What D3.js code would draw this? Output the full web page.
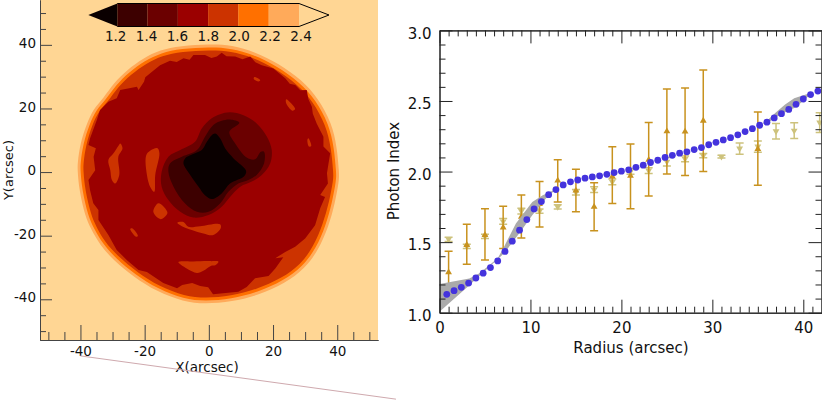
<!DOCTYPE html>
<html>
<head>
<meta charset="utf-8">
<script src="https://cdn.jsdelivr.net/npm/d3@7"></script>
<style>
  body { margin: 0; background: #fff; }
  svg { display: block; }
  text { font-family: "DejaVu Sans", sans-serif; fill: #111; }
</style>
</head>
<body>
<svg id="chart" width="822" height="401"></svg>
<script>
// colour bar
const barLevels = [1.2, 1.4, 1.6, 1.8, 2.0, 2.2, 2.4];
const barColors = ['#0a0000', '#3d0000', '#6b0000', '#9b0000', '#cc3300', '#ff7000', '#ffaa5a', '#ffd694'];

// map contours, [x, y] in arcsec
const ring22 = [[.4,40.25],[7.2,39.9],[14.4,37.8],[21.7,34.2],[29,28.9],[34.1,23.2],[38.3,15.3],[39.9,8],[40.6,-.3],[40.6,-2.5],[39.3,-9.8],[37.3,-17.2],[34.1,-24.5],[30,-30.3],[23.8,-35],[15.5,-38.7],[7.2,-40.8],[-1.2,-41.5],[-7.9,-40.8],[-16.2,-37.6],[-23.5,-32.9],[-29.7,-27.7],[-33.9,-23],[-36.8,-17.7],[-38.5,-14.1],[-40.4,-5.7],[-40.9,.6],[-40.9,2.7],[-40.1,9],[-38,15.3],[-35.9,20],[-32.8,23.2],[-29.7,27.9],[-25.5,32.1],[-20.4,35.8],[-15.2,38.4],[-8.9,39.7]];
const ring20 = [[.4,39.3],[7,38.9],[14,36.9],[21.1,33.4],[28.3,28.2],[33.3,22.7],[37.4,15],[39,7.8],[39.7,-.3],[39.7,-2.5],[38.4,-9.6],[36.4,-16.9],[33.4,-24],[29.3,-29.6],[23.2,-34.2],[15.2,-37.8],[7,-39.9],[-1.2,-40.6],[-7.7,-39.9],[-15.8,-36.8],[-23,-32.2],[-29,-27.1],[-33.2,-22.4],[-36,-17.3],[-37.6,-13.8],[-39.5,-5.6],[-40,.6],[-40,2.6],[-39.2,8.8],[-37.2,15],[-35.1,19.6],[-32.1,22.7],[-29,27.3],[-24.9,31.4],[-19.9,35],[-14.9,37.5],[-8.7,38.8]];
const ring18 = [[.4,38.4],[6.8,38],[13.7,36.1],[20.5,32.7],[27.6,27.6],[32.5,22.2],[36.5,14.6],[38.1,7.6],[38.8,-.3],[38.8,-2.4],[37.5,-9.4],[35.5,-16.5],[32.6,-23.4],[28.7,-29],[22.7,-33.4],[14.8,-36.9],[6.9,-39],[-1.1,-39.7],[-7.5,-39],[-15.4,-36],[-22.4,-31.5],[-28.3,-26.5],[-32.5,-21.9],[-35.2,-16.9],[-36.7,-13.5],[-38.6,-5.5],[-39.1,.6],[-39.1,2.6],[-38.3,8.6],[-36.4,14.7],[-34.3,19.2],[-31.4,22.2],[-28.4,26.7],[-24.3,30.7],[-19.5,34.2],[-14.6,36.6],[-8.5,37.9]];
const ring16 = [[-1.2,36.8],[.8,35.9],[2.5,36.3],[4,37.5],[5.5,36.4],[8.2,36.3],[10.5,35.5],[12.9,36.3],[14.5,34.5],[16.5,33.6],[20.1,32.6],[23.8,29.5],[25.2,27.8],[26.9,27.4],[28.5,25.7],[30.5,25.8],[31,23],[32.1,20.5],[32.4,18.3],[33.6,15.3],[35.7,11.1],[35.7,8],[37.8,5.9],[36.8,-.4],[37.1,-3.6],[34.7,-7.2],[36.2,-7.8],[34.7,-11.4],[33.1,-16.7],[30,-20.9],[26.9,-23.5],[23.8,-25.1],[20.7,-27.1],[23.2,-26.8],[20.7,-30.3],[18.6,-32.7],[14.4,-33.4],[11.8,-36.1],[9.2,-37.6],[1.3,-38.4],[-.2,-36.2],[-2.7,-35.8],[-5.2,-34.9],[-8.3,-35.5],[-9.9,-36.5],[-14.2,-34.9],[-19.3,-31.4],[-21.9,-30.8],[-25.5,-27.7],[-28.7,-24.5],[-31.3,-19.8],[-34.4,-15.1],[-34.4,-11.9],[-36,-9.8],[-37,-5.7],[-37.5,-2.5],[-35.4,.6],[-35.9,4.8],[-35.2,7.5],[-37.5,8.5],[-37,10.6],[-34.9,16.4],[-33.9,19.5],[-31.3,22.1],[-28.7,23.2],[-27.6,25.8],[-22.4,26.8],[-21.9,25.8],[-20.2,28.4],[-19.8,29.8],[-17.8,31.5],[-15.2,33.6],[-12.1,35],[-10,34.6],[-7.9,35.8],[-6,35.3],[-4.8,36.8]];
const blob14 = [[6.6,18.8],[10.8,17.9],[14.9,15.3],[18.1,11.1],[19.6,6.9],[19.1,2.7],[16.5,-.9],[13.4,-3],[9.8,-4.6],[6.6,-7.8],[4,-10.9],[-.1,-13.5],[-4.8,-14.3],[-8.9,-12.5],[-12.6,-8.8],[-14.7,-4.6],[-14.7,.1],[-12.6,4.8],[-8.9,6.9],[-4.3,9.5],[-2.2,13.7],[.9,16.9],[3.5,18.2]];
const blob12 = [[6.6,16.5],[9.5,15.5],[6.4,12.7],[8.2,9],[11.8,4.6],[14.4,4],[16.2,6.4],[17.2,6.4],[17.2,2.7],[14.9,-.9],[12.3,-2.5],[9.2,-3.6],[6.1,-6.2],[3.5,-9.9],[-.1,-12.5],[-3.7,-12.5],[-7.4,-9.9],[-11,-4.6],[-12.6,.1],[-12.1,2.7],[-8.4,4.8],[-3.7,6.9],[-1.2,11.1],[1.4,14.8],[4,16.1]];
const blobCore = [[2,12.1],[3.5,10.6],[5.1,7.4],[7.7,4.3],[11.6,.4],[11,-1.3],[6.6,-3.6],[4,-6.7],[.9,-8.5],[-1.2,-7.3],[-3.2,-4.6],[-5.8,-.9],[-7.9,2.7],[-7.4,4.3],[-4.3,5.9],[-2.2,6.9],[-.6,9.5],[.9,11.6]];
// brighter patches sitting inside the 1.6-1.8 zone
const patches = [
  [[-27.6,9],[-26.9,7.5],[-28.2,4.8],[-27.9,-.9],[-29.2,-3.6],[-30.2,-2.5],[-30.7,.6],[-31.3,3.8],[-29.7,5.9],[-28.2,8.2]],
  [[-16,7.5],[-15.4,5.9],[-16.7,-.9],[-17,-6.2],[-18.3,-4.6],[-19.5,.6],[-19.5,5.3],[-18.3,6.7]],
  [[-15.7,-9.8],[-12.9,-12.8],[-15,-14.8],[-17.3,-12.5]],
  [[-24.5,-17.9],[-23.9,-17.7],[-22.1,-20.1],[-22.7,-20.3]],
  [[-9.8,-15.9],[-7.9,-15.7],[-6.4,-17.2],[-2.7,-17],[3.5,-16.4],[3.7,-17.7],[1.4,-19.8],[-1.7,-19.3],[-5.3,-18.2],[-8.4,-17]],
  [[-9.5,-28.3],[-4.8,-28.1],[.4,-28],[3,-28.2],[2,-29.3],[.6,-29.5],[-1.7,-31],[-3.7,-31.7],[-6.9,-30.3]],
  [[24.1,22.9],[26.9,19.8],[26,19.3],[24.1,21.6]],
  [[31,10.6],[31.9,8.2],[31.2,8],[30.7,10.1]],
  [[14.2,29.9],[16,28.9],[15.5,28.5],[14,29.3]]
];
const strayLine = [[-40, -57.8], [58.3, -71.4]];

// map axis ticks
const mapMajor = [-40, -20, 0, 20, 40];
const mapMinor = [-50, -45, -35, -30, -25, -15, -10, -5, 5, 10, 15, 25, 30, 35, 45, 50];

// fitted profile (blue dots)
const fitRadius = [0.8,1.6,2.4,3.2,4,4.8,5.6,6.4,7.2,8,8.8,9.6,10.4,11.2,12,12.8,13.6,14.4,15.2,16,16.8,17.6,18.4,19.2,20,20.8,21.6,22.4,23.2,24,24.8,25.6,26.4,27.2,28,28.8,29.6,30.4,31.2,32,32.8,33.6,34.4,35.2,36,36.8,37.6,38.4,39.2,40,40.8,41.6,42.4];
const fitIndex = [1.13,1.156,1.18,1.21,1.246,1.28,1.32,1.367,1.434,1.507,1.585,1.66,1.735,1.787,1.836,1.872,1.905,1.927,1.94,1.953,1.962,1.97,1.98,1.993,2.003,2.012,2.03,2.045,2.064,2.08,2.1,2.115,2.13,2.14,2.156,2.17,2.19,2.207,2.224,2.24,2.26,2.283,2.304,2.328,2.35,2.38,2.41,2.44,2.476,2.514,2.545,2.57,2.59];

// grey uncertainty band, two stretches
const bandInnerHigh = [[0,1.203],[3.28,1.243],[4.4,1.279],[6.4,1.385],[7.1,1.467],[8.4,1.632],[10.2,1.785],[11.35,1.832],[12.8,1.875]];
const bandInnerLow = [[0,1.007],[3.1,1.184],[5.1,1.302],[6.9,1.408],[7.8,1.479],[8.9,1.573],[10.2,1.691],[11.7,1.809],[12.8,1.875]];
const bandOuterHigh = [[35.5,2.34],[36,2.36],[37,2.42],[38,2.475],[39,2.52],[40,2.54],[41,2.56]];
const bandOuterLow = [[35.5,2.34],[36,2.34],[37,2.385],[38,2.42],[39,2.45],[40,2.5],[41,2.56]];

// orange points with error bars
const orangeRadius = [1,3,5,7,9,11,13,15,17,19,21,23,25,27,29,35];
const orangeIndex = [1.286,1.48,1.55,1.604,1.68,1.77,1.936,1.865,1.75,1.965,1.97,2.083,2.285,2.283,2.36,2.16];
const orangeHigh = [1.436,1.626,1.737,1.755,1.834,1.929,2.083,2.017,1.92,2.175,2.196,2.347,2.585,2.592,2.72,2.422];
const orangeLow = [1.13,1.344,1.374,1.455,1.53,1.607,1.784,1.716,1.58,1.773,1.737,1.827,1.983,1.972,2.0,1.903];

// pale points with error bars
const paleRadius = [1,3,5,7,9,11,13,15,17,19,21,23,25,27,29,31,33,35,37,39,41.8];
const paleIndex = [1.52,1.47,1.54,1.647,1.72,1.72,1.75,1.853,1.872,1.927,2.0,2.007,2.07,2.09,2.113,2.106,2.163,2.177,2.285,2.29,2.347];
const paleErr = [.015,.015,.015,.02,.02,.015,.015,.02,.02,.02,.02,.02,.03,.02,.015,.01,.04,.04,.055,.055,.07];

const svg = d3.select('#chart');
const mapX = d3.scaleLinear().domain([-52.6, 52.7]).range([40, 378]);
const mapY = d3.scaleLinear().domain([-52.8, 54.1]).range([340, 0]);
const plotX = d3.scaleLinear().domain([0, 42]).range([439.5, 821.5]);
const plotY = d3.scaleLinear().domain([1, 3]).range([312.7, 30.4]);

// ---- left panel ----
svg.append('rect')
    .attr('x', 40).attr('y', 0).attr('width', 338).attr('height', 340)
    .attr('fill', barColors[7]);

const round = d3.line().x(d => mapX(d[0])).y(d => mapY(d[1])).curve(d3.curveBasisClosed);
const smooth = d3.line().x(d => mapX(d[0])).y(d => mapY(d[1])).curve(d3.curveCatmullRomClosed);
const jagged = d3.line().x(d => mapX(d[0])).y(d => mapY(d[1])).curve(d3.curveLinearClosed);

const contours = [
    [ring22, barColors[6], round],
    [ring20, barColors[5], round],
    [ring18, barColors[4], round],
    [ring16, barColors[3], jagged],
    [blob14, barColors[2], smooth],
    [blob12, barColors[1], smooth],
    [blobCore, barColors[0], smooth]
];
const mapG = svg.append('g');
contours.forEach(c => {
    mapG.append('path').attr('d', c[2](c[0])).attr('fill', c[1]);
});
mapG.selectAll('.patch')
    .data(patches)
    .enter()
    .append('path')
    .attr('class', 'patch')
    .attr('d', d => smooth(d))
    .attr('fill', barColors[4]);

// colour bar, drawn on its own value scale
const barX = d3.scaleLinear().domain([1.2, 2.4]).range([117.3, 299]);
const barLabelX = d3.scaleLinear().domain([1.2, 2.4]).range([115.7, 301]);
const barTop = 3.5, barBottom = 26.5, barMid = 15;
const barG = svg.append('g');
barG.selectAll('rect')
    .data(barLevels.slice(0, -1))
    .enter()
    .append('rect')
    .attr('x', d => barX(d))
    .attr('y', barTop)
    .attr('width', (d, i) => barX(barLevels[i + 1]) - barX(d))
    .attr('height', barBottom - barTop)
    .attr('fill', (d, i) => barColors[i + 1]);
barG.append('path')
    .attr('d', `M${barX(1.2)},${barTop}L${barX(1.2) - 29},${barMid}L${barX(1.2)},${barBottom}Z`)
    .attr('fill', barColors[0]);
barG.append('path')
    .attr('d', `M${barX(1.2)},${barTop}H${barX(2.4)}L${barX(2.4) + 30},${barMid}L${barX(2.4)},${barBottom}H${barX(1.2)}`)
    .attr('fill', 'none')
    .attr('stroke', '#000')
    .attr('stroke-width', 1);
barG.selectAll('text')
    .data(barLevels)
    .enter()
    .append('text')
    .attr('x', d => barLabelX(d))
    .attr('y', 40.6)
    .attr('text-anchor', 'middle')
    .attr('font-size', 13.5)
    .text(d => d.toFixed(1));

function styleAxis(g, color) {
    g.selectAll('path').attr('stroke', color);
    g.selectAll('line').attr('stroke', color);
    g.selectAll('text').attr('fill', '#111').style('font-family', '"DejaVu Sans", sans-serif');
}

// map axes, major and minor
const mapBottom = svg.append('g').attr('transform', 'translate(0,340)')
    .call(d3.axisBottom(mapX).tickValues(mapMajor).tickSize(-15).tickSizeOuter(0).tickPadding(6).tickFormat(d => d))
    .attr('font-size', 13.5);
const mapLeft = svg.append('g').attr('transform', 'translate(40,0)')
    .call(d3.axisLeft(mapY).tickValues(mapMajor).tickSize(-12).tickSizeOuter(0).tickPadding(4).tickFormat(d => d))
    .attr('font-size', 13.5);
mapLeft.selectAll('text').attr('dy', '0.2em');
const mapBottomMinor = svg.append('g').attr('transform', 'translate(0,340)')
    .call(d3.axisBottom(mapX).tickValues(mapMinor).tickSize(-8).tickSizeOuter(0).tickFormat(''));
const mapLeftMinor = svg.append('g').attr('transform', 'translate(40,0)')
    .call(d3.axisLeft(mapY).tickValues(mapMinor).tickSize(-6).tickSizeOuter(0).tickFormat(''));
[mapBottom, mapLeft, mapBottomMinor, mapLeftMinor].forEach(a => styleAxis(a, '#444'));

svg.append('text')
    .attr('x', 207).attr('y', 372)
    .attr('text-anchor', 'middle').attr('font-size', 13.5)
    .text('X(arcsec)');
svg.append('text')
    .attr('transform', 'translate(12.5,170) rotate(-90)')
    .attr('text-anchor', 'middle').attr('font-size', 13)
    .text('Y(arcsec)');

svg.append('line')
    .attr('x1', mapX(strayLine[0][0])).attr('y1', mapY(strayLine[0][1]))
    .attr('x2', mapX(strayLine[1][0])).attr('y2', mapY(strayLine[1][1]))
    .attr('stroke', '#cfa9ae').attr('stroke-width', 1);

// ---- right panel ----
const plotG = svg.append('g');
plotG.append('clipPath').attr('id', 'plot-clip').append('rect')
    .attr('x', 439.5).attr('y', 30.4).attr('width', 382).attr('height', 282.3);
const marks = plotG.append('g').attr('clip-path', 'url(#plot-clip)');

function drawErrors(radius, index, low, high, color, capHalf, symbol, rotate) {
    const g = marks.append('g');
    radius.forEach((r, i) => {
        const px = plotX(r);
        g.append('line').attr('x1', px).attr('x2', px)
            .attr('y1', plotY(low[i])).attr('y2', plotY(high[i]))
            .attr('stroke', color).attr('stroke-width', 1.5);
        [low[i], high[i]].forEach(v => {
            g.append('line').attr('x1', px - capHalf).attr('x2', px + capHalf)
                .attr('y1', plotY(v)).attr('y2', plotY(v))
                .attr('stroke', color).attr('stroke-width', 1.5);
        });
        g.append('path')
            .attr('d', symbol)
            .attr('transform', `translate(${px},${plotY(index[i])}) rotate(${rotate})`)
            .attr('fill', color);
    });
}

const triangle = d3.symbol().type(d3.symbolTriangle).size(20)();
drawErrors(paleRadius, paleIndex,
    paleIndex.map((v, i) => v - paleErr[i]), paleIndex.map((v, i) => v + paleErr[i]),
    '#cdc27c', 4, triangle, 180);
drawErrors(orangeRadius, orangeIndex, orangeLow, orangeHigh, '#c8921e', 4, triangle, 0);

function drawBand(high, low) {
    const outline = high.concat(low.slice().reverse());
    marks.append('path')
        .attr('d', d3.line().x(d => plotX(d[0])).y(d => plotY(d[1]))(outline) + 'Z')
        .attr('fill', '#aaaaaa');
}
drawBand(bandInnerHigh, bandInnerLow);
drawBand(bandOuterHigh, bandOuterLow);

marks.selectAll('.fit')
    .data(fitRadius)
    .enter()
    .append('circle')
    .attr('class', 'fit')
    .attr('cx', d => plotX(d))
    .attr('cy', (d, i) => plotY(fitIndex[i]))
    .attr('r', 3.4)
    .attr('fill', '#4433dd');

// plot axes on all four sides
const plotMajorX = [0, 10, 20, 30, 40];
const plotMinorX = d3.range(1, 42).filter(d => d % 10 !== 0);
const plotMajorY = [1, 1.5, 2, 2.5, 3];
const plotMinorY = d3.range(1.1, 3, 0.1).filter(d => Math.abs(d * 2 - Math.round(d * 2)) > 0.01);

const plotBottom = svg.append('g').attr('transform', 'translate(0,312.7)')
    .call(d3.axisBottom(plotX).tickValues(plotMajorX).tickSize(-13).tickSizeOuter(0).tickPadding(10).tickFormat(d => d))
    .attr('font-size', 15);
const plotLeft = svg.append('g').attr('transform', 'translate(439.5,0)')
    .call(d3.axisLeft(plotY).tickValues(plotMajorY).tickSize(-13).tickSizeOuter(0).tickPadding(8).tickFormat(d3.format('.1f')))
    .attr('font-size', 15);
plotLeft.selectAll('text').attr('dy', '0.52em');
const plotTop = svg.append('g').attr('transform', 'translate(0,30.4)')
    .call(d3.axisTop(plotX).tickValues(plotMajorX).tickSize(-13).tickSizeOuter(0).tickFormat(''));
const plotRight = svg.append('g').attr('transform', 'translate(821.5,0)')
    .call(d3.axisRight(plotY).tickValues(plotMajorY).tickSize(-13).tickSizeOuter(0).tickFormat(''));
const minorAxes = [
    svg.append('g').attr('transform', 'translate(0,312.7)').call(d3.axisBottom(plotX).tickValues(plotMinorX).tickSize(-6).tickSizeOuter(0).tickFormat('')),
    svg.append('g').attr('transform', 'translate(0,30.4)').call(d3.axisTop(plotX).tickValues(plotMinorX).tickSize(-6).tickSizeOuter(0).tickFormat('')),
    svg.append('g').attr('transform', 'translate(439.5,0)').call(d3.axisLeft(plotY).tickValues(plotMinorY).tickSize(-6).tickSizeOuter(0).tickFormat('')),
    svg.append('g').attr('transform', 'translate(821.5,0)').call(d3.axisRight(plotY).tickValues(plotMinorY).tickSize(-6).tickSizeOuter(0).tickFormat(''))
];
[plotBottom, plotLeft, plotTop, plotRight].concat(minorAxes).forEach(a => styleAxis(a, '#222'));

svg.append('text')
    .attr('x', 631).attr('y', 352.5)
    .attr('text-anchor', 'middle').attr('font-size', 15)
    .text('Radius (arcsec)');
svg.append('text')
    .attr('transform', 'translate(398.5,171) rotate(-90)')
    .attr('text-anchor', 'middle').attr('font-size', 15)
    .text('Photon Index');
</script>
</body>
</html>
